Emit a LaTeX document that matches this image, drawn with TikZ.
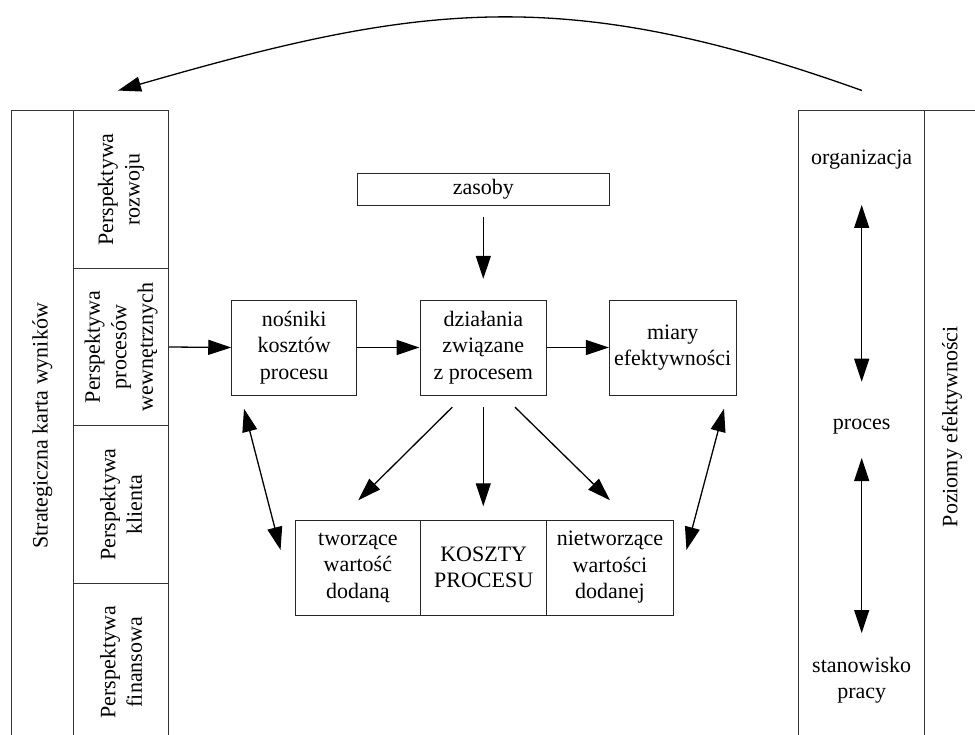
\documentclass[tikz,border=0pt]{standalone}
\usepackage{fontspec}
\setmainfont{Liberation Serif}
\usetikzlibrary{arrows.meta,calc}
\tikzset{
  txt/.style={font=\fontsize{22}{26.5}\selectfont, align=center, inner sep=0pt},
  cell/.style={draw=black!80, line width=0.9pt, inner sep=0pt},
  box/.style={txt, draw=black!85, line width=0.9pt, minimum height=95pt},
  arr/.style={-{Triangle[length=23pt,width=15pt]}, line width=1.3pt},
  darr/.style={{Triangle[length=23pt,width=15pt]}-{Triangle[length=23pt,width=15pt]}, line width=1.3pt}
}
\begin{document}
\begin{tikzpicture}[x=1pt,y=-1pt]
\useasboundingbox (0,0) rectangle (975,735);
\clip (0,0) rectangle (975,735);

% left panel
\node[cell, minimum width=62.7pt, minimum height=630.3pt] (lout) at (42.35,425.85) {};
\node[txt, rotate=90] (ltitle) at (lout.center) {Strategiczna karta wyników};
\node[cell, minimum width=95pt, minimum height=157.6pt] (l1) at (121.2,189.5) {};
\node[cell, minimum width=95pt, minimum height=157.4pt] (l2) at (121.2,347) {};
\node[cell, minimum width=95pt, minimum height=157.6pt] (l3) at (121.2,504.5) {};
\node[cell, minimum width=95pt, minimum height=157.7pt] (l4) at (121.2,662.15) {};
\node[txt, rotate=90] (t1) at (l1.center) {Perspektywa\\rozwoju};
\node[txt, rotate=90] (t2) at (l2.center) {Perspektywa\\procesów\\wewnętrznych};
\node[txt, rotate=90] (t3) at (l3.center) {Perspektywa\\klienta};
\node[txt, rotate=90] (t4) at (l4.center) {Perspektywa\\finansowa};

% right panel
\node[cell, minimum width=126pt, minimum height=634.3pt] (rin) at (861.3,427.85) {};
\node[cell, minimum width=65.7pt, minimum height=634.3pt] (rout) at (957.15,427.85) {};
\node[txt, rotate=90] (rtitle) at (952,426.7) {Poziomy efektywności};
\node[txt] (org) at (861.7,160) {organizacja};
\node[txt] (proc) at (861.7,426.7) {proces};
\node[txt] (stan) at (861.7,680) {stanowisko\\pracy};
\draw[darr] ($(org)+(0,45)$) -- ($(proc)+(0,-45)$);
\draw[darr] ($(proc)+(0,31.3)$) -- ($(stan)+(0,-47)$);

% central boxes
\node[txt, draw=black!85, line width=0.9pt, minimum width=252pt, minimum height=31.7pt] (zas) at (483.3,189.2) {zasoby};
\node[box, minimum width=125pt] (nos) at (294.2,347.5) {nośniki\\kosztów\\procesu};
\node[box, minimum width=126.7pt] (dzi) at (483.3,347.5) {działania\\związane\\z procesem};
\node[box, minimum width=126.7pt] (mia) at (672.7,347.5) {miary\\efektywności};
\node[box, minimum width=125.7pt] (tw) at (357.85,567.5) {tworzące\\wartość\\dodaną};
\node[box, minimum width=126pt] (kos) at (483.7,567.5) {KOSZTY\\PROCESU};
\node[box, minimum width=126.6pt] (nie) at (610,567.5) {nietworzące\\wartości\\dodanej};

% connectors
\draw[arr] (zas.south) ++(0,12) -- ($(dzi.north)+(0,-20.7)$);
\draw[arr] (l2.east) -- (nos.west);
\draw[arr] (nos.east) -- (dzi.west);
\draw[arr] (dzi.east) -- (mia.west);
\draw[arr] ($(dzi.south)+(-31,11.7)$) -- ($(tw.north)+(0.45,-19.3)$);
\draw[arr] ($(dzi.south)+(0,11.7)$) -- ($(kos.north)+(-0.4,-13.3)$);
\draw[arr] ($(dzi.south)+(31.7,11.7)$) -- ($(nie.north)+(0,-19.3)$);
\draw[darr] ($(nos.south)+(-50.2,13.3)$) -- ($(tw.west)+(-14,-17.5)$);
\draw[darr] ($(mia.south)+(51.3,13.3)$) -- ($(nie.east)+(12.7,-17.5)$);

% top arc
\draw[arr] ($(rin.north)+(0.7,-19.7)$) .. controls (562,-17) and (418,4) .. ($(l1.north)+(-3.2,-19.7)$);
\end{tikzpicture}
\end{document}
